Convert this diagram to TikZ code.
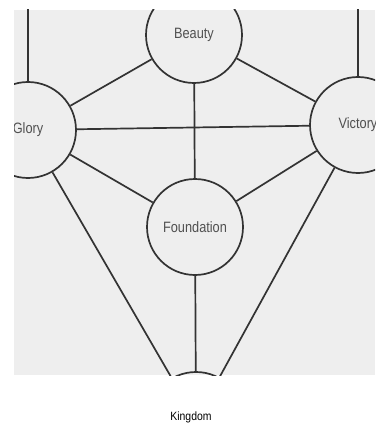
\documentclass[tikz,border=0pt]{standalone}
\usepackage{fontspec}
\newfontfamily\labelfont[FakeStretch=0.85]{Liberation Sans}
\newfontfamily\captionfont[FakeStretch=0.87]{Liberation Sans}
\definecolor{scanbg}{HTML}{EEEEEE}
\definecolor{inkline}{HTML}{333333}
\definecolor{inktext}{HTML}{505050}
\begin{document}
\begin{tikzpicture}[x=1pt,y=-1pt,
  sefira/.style={circle,draw=inkline,line width=1.7pt,minimum size=96pt,inner sep=0pt,
    font=\labelfont\fontsize{15}{17}\selectfont,text=inktext},
  path/.style={draw=inkline,line width=1.7pt},
  ]
\useasboundingbox (0,0) rectangle (375,425);
\fill[white] (0,0) rectangle (375,425);
\begin{scope}
\clip (14,10) rectangle (375,375);
\fill[scanbg] (14,10) rectangle (375,375);
\node[sefira] (beauty) at (194,35) {Beauty};
\node[sefira] (glory) at (28,130) {Glory};
\node[sefira] (victory) at (358,125) {Victory};
\node[sefira] (foundation) at (195,227) {Foundation};
\node[sefira] (kingdom) at (196,420) {};
\coordinate (gloryUp) at (28,0);
\coordinate (victoryUp) at (358,0);
\draw[path] (glory) -- (gloryUp);
\draw[path] (victory) -- (victoryUp);
\draw[path] (beauty) -- (glory);
\draw[path] (beauty) -- (victory);
\draw[path] (beauty) -- (foundation);
\draw[path] (glory) -- (victory);
\draw[path] (glory) -- (foundation);
\draw[path] (victory) -- (foundation);
\draw[path] (glory) -- (kingdom);
\draw[path] (victory) -- (kingdom);
\draw[path] (foundation) -- (kingdom);
\end{scope}
\node[font=\captionfont\fontsize{12}{14}\selectfont,text=black] (kingdomLabel) at (191,417) {Kingdom};
\end{tikzpicture}
\end{document}
